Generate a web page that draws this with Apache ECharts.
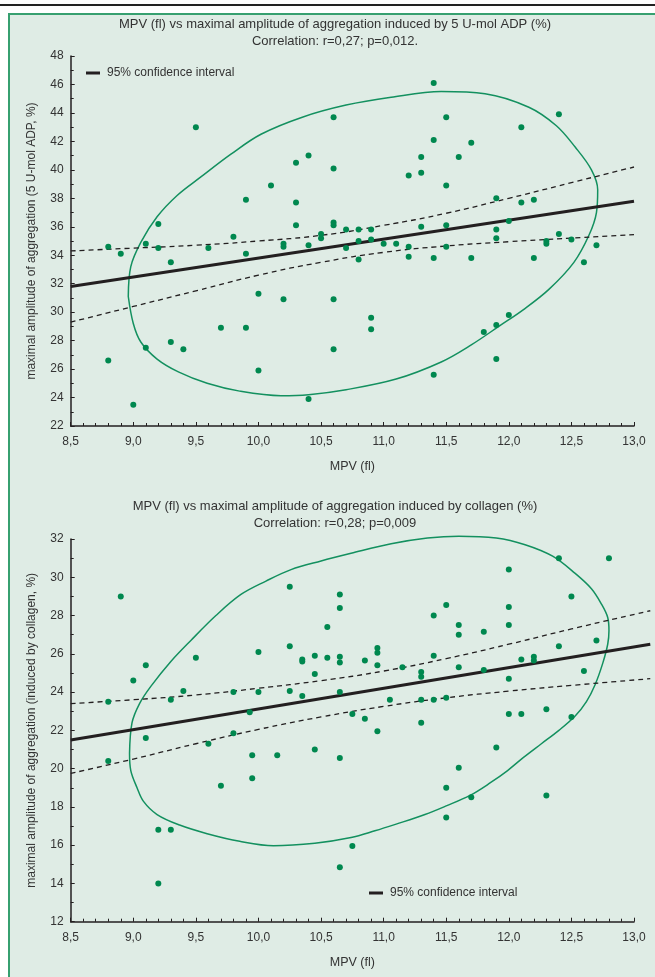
<!DOCTYPE html>
<html>
<head>
<meta charset="utf-8">
<script src="https://cdn.jsdelivr.net/npm/echarts@6/dist/echarts.min.js"></script>
<style>
html,body{margin:0;padding:0;background:#fff;}
#chart{width:655px;height:977px;}
</style>
</head>
<body>
<div id="chart"></div>
<script>
// ---------- Top chart: MPV vs ADP aggregation ----------
const topTitle = 'MPV (fl) vs maximal amplitude of aggregation induced by 5 U-mol ADP (%)\nCorrelation: r=0,27; p=0,012.';
const topYName = 'maximal amplitude of aggregation (5 U-mol ADP, %)';
const topMPV = [8.8,8.8,8.9,9.0,9.1,9.1,9.2,9.2,9.3,9.3,9.4,9.5,9.6,9.7,9.8,9.9,9.9,9.9,10.0,10.0,10.1,10.2,10.2,10.2,10.3,10.3,10.3,10.4,10.4,10.4,10.5,10.5,10.6,10.6,10.6,10.6,10.6,10.6,10.7,10.7,10.8,10.8,10.8,10.9,10.9,10.9,10.9,11.0,11.1,11.2,11.2,11.2,11.3,11.3,11.3,11.4,11.4,11.4,11.4,11.5,11.5,11.5,11.5,11.6,11.7,11.7,11.8,11.9,11.9,11.9,11.9,11.9,12.0,12.0,12.1,12.1,12.2,12.2,12.3,12.3,12.4,12.4,12.5,12.6,12.7];
const topADP = [34.6,26.6,34.1,23.5,34.8,27.5,36.2,34.5,33.5,27.9,27.4,43.0,34.5,28.9,35.3,37.9,34.1,28.9,31.3,25.9,38.9,34.8,34.6,30.9,40.5,37.7,36.1,41.0,34.7,23.9,35.5,35.2,43.7,40.1,36.3,36.1,30.9,27.4,35.8,34.5,35.8,35.0,33.7,35.8,35.1,29.6,28.8,34.8,34.8,39.6,34.6,33.9,40.9,39.8,36.0,46.1,42.1,33.8,25.6,43.7,38.9,36.1,34.6,40.9,41.9,33.8,28.6,38.0,35.8,35.2,29.1,26.7,36.4,29.8,43.0,37.7,37.9,33.8,35.0,34.8,43.9,35.5,35.1,33.5,34.7];
const topFitX = [8.5, 13.0];
const topFitY = [31.8, 37.8];
const topBandX = [8.5,9.0,9.5,10.0,10.5,11.0,11.5,12.0,12.5,13.0];
const topUpper = [34.3,34.5,34.7,35.0,35.4,36.1,36.95,38.0,39.1,40.2];
const topLower = [29.3,30.4,31.5,32.6,33.5,34.2,34.65,34.95,35.2,35.45];
const topEllX = [8.96,8.98,9.06,9.19,9.35,9.54,9.78,10.02,10.35,10.7,11.06,11.46,11.81,12.16,12.38,12.53,12.66,12.71,12.70,12.64,12.52,12.32,12.12,11.92,11.7,11.46,11.1,10.7,10.4,10.18,9.85,9.59,9.36,9.19,9.06,9.0,8.96];
const topEllY = [31.1,33.2,34.9,36.7,38.2,39.5,41.1,42.5,43.7,44.55,45.1,45.5,45.35,44.4,43.1,41.6,40.0,38.6,37.0,35.4,33.5,31.6,30.2,29.0,27.7,26.5,25.3,24.55,24.2,24.13,24.45,25.0,25.8,26.7,27.9,29.2,31.1];

// ---------- Bottom chart: MPV vs collagen aggregation ----------
const botTitle = 'MPV (fl) vs maximal amplitude of aggregation induced by collagen (%)\nCorrelation: r=0,28; p=0,009';
const botYName = 'maximal amplitude of aggregation (induced by collagen, %)';
const botMPV = [8.8,8.8,8.9,9.0,9.1,9.1,9.2,9.2,9.3,9.3,9.4,9.5,9.6,9.7,9.8,9.8,9.93,9.95,9.95,10.0,10.0,10.15,10.25,10.25,10.25,10.35,10.35,10.35,10.45,10.45,10.45,10.55,10.55,10.65,10.65,10.65,10.65,10.65,10.65,10.65,10.75,10.75,10.85,10.85,10.95,10.95,10.95,10.95,11.05,11.15,11.3,11.3,11.3,11.3,11.4,11.4,11.4,11.5,11.5,11.5,11.5,11.6,11.6,11.6,11.6,11.7,11.8,11.8,11.9,12.0,12.0,12.0,12.0,12.0,12.1,12.1,12.2,12.2,12.3,12.3,12.4,12.4,12.5,12.5,12.6,12.7,12.8];
const botCollagen = [23.5,20.4,29.0,24.6,25.4,21.6,16.8,14.0,23.6,16.8,24.05,25.8,21.3,19.1,24.0,21.85,22.95,20.7,19.5,26.1,24.0,20.7,29.5,26.4,24.05,25.7,25.6,23.8,25.9,24.95,21.0,27.4,25.8,29.1,28.4,25.85,25.55,24.0,20.55,14.85,22.85,15.95,25.65,22.6,26.3,26.05,25.4,21.95,23.6,25.3,25.05,24.8,23.6,22.4,28.0,25.9,23.6,28.55,23.7,19.0,17.45,27.5,27.0,25.3,20.05,18.5,27.15,25.15,21.1,30.4,28.45,27.5,24.7,22.85,25.7,22.85,25.85,25.65,23.1,18.6,31.0,26.4,29.0,22.7,25.1,26.7,31.0];
const botFitX = [8.5, 13.13];
const botFitY = [21.5, 26.5];
const botBandX = [8.5,9.0,9.5,10.0,10.5,11.0,11.5,12.0,12.5,13.13];
const botUpper = [23.4,23.6,23.85,24.2,24.6,25.1,25.75,26.5,27.3,28.25];
const botLower = [19.75,20.5,21.3,22.05,22.7,23.25,23.7,24.05,24.35,24.7];
const botEllX = [8.97,8.99,9.05,9.14,9.3,9.46,9.66,9.86,10.06,10.26,10.5,10.74,11.06,11.35,11.6,11.9,12.13,12.35,12.53,12.66,12.74,12.79,12.8,12.79,12.75,12.69,12.62,12.53,12.4,12.26,12.12,11.99,11.85,11.69,11.5,11.33,11.1,10.93,10.74,10.45,10.12,9.85,9.59,9.37,9.19,9.08,9.03,8.98,8.97];
const botEllY = [20.8,22.4,23.4,24.3,25.6,26.7,28.0,29.1,29.8,30.4,30.85,31.25,31.75,32.05,32.15,32.05,31.7,31.1,30.2,29.4,28.6,27.9,27.2,26.5,25.5,24.4,23.5,22.75,22.0,21.3,20.6,19.9,19.25,18.6,18.05,17.6,17.1,16.75,16.4,16.1,15.97,16.2,16.6,17.05,17.6,18.3,19.0,19.9,20.8];

const xName = 'MPV (fl)';
const legendLabel = '95% confidence interval';

// ---------- build ----------
const zip = (a, b) => a.map((v, i) => [v, b[i]]);
const FONT = 'Liberation Sans';
const TXT = '#333';
const GREEN = '#00884f';
const ELL = '#13905f';
const BLACK = '#231f20';

const GL = 70.7, GW = 563.3;

function xAxisCfg(gi) {
  return {
    gridIndex: gi, type: 'value', min: 8.5, max: 13.0, interval: 0.5,
    name: xName, nameLocation: 'middle', nameGap: 34,
    nameTextStyle: { fontFamily: FONT, fontSize: 12.5, color: TXT },
    axisLine: { lineStyle: { color: BLACK, width: 1.5 } },
    axisTick: { inside: true, length: 4, lineStyle: { color: BLACK } },
    minorTick: { show: true, splitNumber: 5, length: 3, lineStyle: { color: BLACK } },
    axisLabel: { fontFamily: FONT, fontSize: 12, color: TXT, margin: 10,
      formatter: v => v.toFixed(1).replace('.', ',') },
    splitLine: { show: false }
  };
}
function yAxisCfg(gi, min, max, name) {
  return {
    gridIndex: gi, type: 'value', min: min, max: max, interval: 2,
    name: name, nameLocation: 'middle', nameGap: 33, nameRotate: 90,
    nameTextStyle: { fontFamily: FONT, fontSize: 12, color: TXT },
    axisLine: { show: true, lineStyle: { color: BLACK, width: 1.5 } },
    axisTick: { inside: true, length: 4, lineStyle: { color: BLACK } },
    minorTick: { show: true, splitNumber: 2, length: 3, lineStyle: { color: BLACK } },
    axisLabel: { fontFamily: FONT, fontSize: 12, color: TXT, margin: 7 },
    splitLine: { show: false }
  };
}
function seriesFor(gi, lineAxis, mpv, vals, fitX, fitY, bandX, up, lo, ex, ey) {
  return [
    { type: 'line', xAxisIndex: gi, yAxisIndex: gi, data: zip(ex, ey), smooth: 0.35,
      showSymbol: false, clip: false, lineStyle: { color: ELL, width: 1.5 }, silent: true, z: 2 },
    { type: 'line', xAxisIndex: lineAxis, yAxisIndex: lineAxis, data: zip(bandX, up), smooth: true,
      showSymbol: false, lineStyle: { color: BLACK, width: 1.3, type: [5, 4] }, silent: true, z: 3 },
    { type: 'line', xAxisIndex: lineAxis, yAxisIndex: lineAxis, data: zip(bandX, lo), smooth: true,
      showSymbol: false, lineStyle: { color: BLACK, width: 1.3, type: [5, 4] }, silent: true, z: 3 },
    { name: legendLabel, type: 'line', xAxisIndex: lineAxis, yAxisIndex: lineAxis, data: zip(fitX, fitY),
      showSymbol: false, lineStyle: { color: BLACK, width: 3 }, itemStyle: { color: BLACK }, silent: true, z: 4 },
    { type: 'scatter', xAxisIndex: gi, yAxisIndex: gi, data: zip(mpv, vals), symbolSize: 6,
      itemStyle: { color: GREEN, opacity: 1 }, z: 5 }
  ];
}

const chart = echarts.init(document.getElementById('chart'), null, { renderer: 'canvas' });
chart.setOption({
  animation: false,
  backgroundColor: '#fff',
  graphic: [
    { type: 'rect', shape: { x: 0, y: 4, width: 655, height: 2 }, style: { fill: '#222' }, silent: true, z: -10 },
    { type: 'rect', shape: { x: 9, y: 14, width: 660, height: 980 },
      style: { fill: '#dfece5', stroke: '#37a070', lineWidth: 2 }, silent: true, z: -10 }
  ],
  title: [
    { text: topTitle, left: 330, top: 11, textAlign: 'center',
      textStyle: { fontFamily: FONT, fontSize: 13, fontWeight: 'normal', color: TXT, lineHeight: 17 } },
    { text: botTitle, left: 330, top: 493, textAlign: 'center',
      textStyle: { fontFamily: FONT, fontSize: 13, fontWeight: 'normal', color: TXT, lineHeight: 17 } }
  ],
  legend: [
    { data: [legendLabel], left: 81, top: 62, icon: 'rect', itemWidth: 14, itemHeight: 3, selectedMode: false,
      textStyle: { fontFamily: FONT, fontSize: 12, color: TXT, padding: [0, 0, 0, 2] } },
    { data: [legendLabel], left: 364, top: 882, icon: 'rect', itemWidth: 14, itemHeight: 3, selectedMode: false,
      textStyle: { fontFamily: FONT, fontSize: 12, color: TXT, padding: [0, 0, 0, 2] } }
  ],
  grid: [
    { left: GL, top: 56, width: GW, height: 370 },
    { left: GL, top: 539, width: GW, height: 382.7 },
    // hidden grid for the bottom fit lines, which run a little past 13,0 in the original
    { left: GL, top: 539, width: GW * (13.13 - 8.5) / 4.5, height: 382.7 }
  ],
  xAxis: [xAxisCfg(0), xAxisCfg(1),
    { gridIndex: 2, type: 'value', min: 8.5, max: 13.13, show: false }],
  yAxis: [yAxisCfg(0, 22, 48, topYName), yAxisCfg(1, 12, 32, botYName),
    { gridIndex: 2, type: 'value', min: 12, max: 32, show: false }],
  series: [].concat(
    seriesFor(0, 0, topMPV, topADP, topFitX, topFitY, topBandX, topUpper, topLower, topEllX, topEllY),
    seriesFor(1, 2, botMPV, botCollagen, botFitX, botFitY, botBandX, botUpper, botLower, botEllX, botEllY)
  )
});
</script>
</body>
</html>
